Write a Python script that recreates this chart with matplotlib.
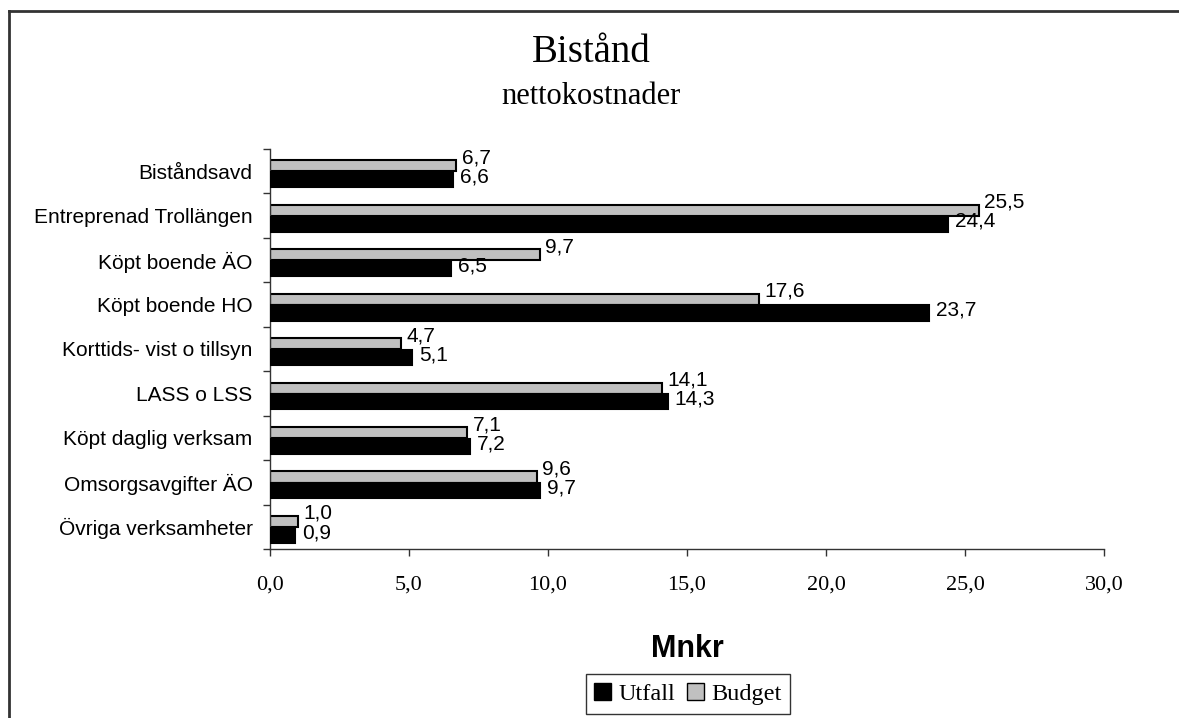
import numpy as np
import matplotlib
matplotlib.use('Agg')
import matplotlib.pyplot as plt
from matplotlib.patches import Patch
from matplotlib.lines import Line2D

categories = ['Biståndsavd', 'Entreprenad Trollängen', 'Köpt boende ÄO',
              'Köpt boende HO', 'Korttids- vist o tillsyn', 'LASS o LSS',
              'Köpt daglig verksam', 'Omsorgsavgifter ÄO', 'Övriga verksamheter']
utfall = [6.6, 24.4, 6.5, 23.7, 5.1, 14.3, 7.2, 9.7, 0.9]
budget = [6.7, 25.5, 9.7, 17.6, 4.7, 14.1, 7.1, 9.6, 1.0]
xticks = [0, 5, 10, 15, 20, 25, 30]

serif = 'Liberation Serif'
sans = 'Liberation Sans'

W, H = 1179, 718
fig = plt.figure(figsize=(W / 100.0, H / 100.0), dpi=100)
ax = fig.add_axes([270.0 / W, 1 - 549.0 / H, 834.0 / W, 400.0 / H])

def fmt(v):
    return ('%.1f' % v).replace('.', ',')

y = np.arange(len(categories))
ax.barh(y - 0.12, budget, height=0.25, color='#c0c0c0', edgecolor='black', linewidth=1.5, zorder=2)
ax.barh(y + 0.19, utfall, height=0.34, color='black', edgecolor='black', linewidth=1.5, zorder=3)

for i in range(len(categories)):
    ax.text(budget[i] + 0.2, y[i] - 0.3, fmt(budget[i]),
            family=sans, fontsize=15, va='center', ha='left')
    ax.text(utfall[i] + 0.25, y[i] + 0.13, fmt(utfall[i]),
            family=sans, fontsize=15, va='center', ha='left')

ax.set_xlim(0, 30)
ax.set_ylim(len(categories) - 0.5, -0.5)

ax.set_xticks(xticks)
ax.set_xticklabels([fmt(v) for v in xticks], family=serif, fontsize=16)
ax.tick_params(axis='x', direction='out', length=5, width=1, pad=14, color='#333333')

ax.set_yticks(y)
ax.set_yticklabels(categories, family=sans, fontsize=15)
ax.set_yticks(np.arange(len(categories) + 1) - 0.5, minor=True)
ax.tick_params(axis='y', which='major', length=0, pad=12.5)
ax.tick_params(axis='y', which='minor', direction='out', length=5, width=1, color='#333333')

for s in ['top', 'right']:
    ax.spines[s].set_visible(False)
for s in ['left', 'bottom']:
    ax.spines[s].set_color('#333333')
    ax.spines[s].set_linewidth(1)

fig.text(591.0 / W, 1 - 52.0 / H, 'Bistånd', family=serif, fontsize=28, ha='center', va='center')
fig.text(591.0 / W, 1 - 97.0 / H, 'nettokostnader', family=serif, fontsize=22, ha='center', va='center')
fig.text(687.0 / W, 1 - 649.0 / H, 'Mnkr', family=sans, fontsize=22, weight='bold', ha='center', va='center')

handles = [Patch(facecolor='black', edgecolor='black', label='Utfall'),
           Patch(facecolor='#c0c0c0', edgecolor='black', label='Budget')]
lg = fig.legend(handles=handles, loc='center', bbox_to_anchor=(688.0 / W, 1 - 694.0 / H),
                ncol=2, prop={'family': serif, 'size': 17.5}, frameon=True, fancybox=False,
                handlelength=0.7, handleheight=0.7, handletextpad=0.3, columnspacing=0.5,
                borderpad=0.35, borderaxespad=0)
lg.get_frame().set_edgecolor('black')
lg.get_frame().set_linewidth(1)

# outer frame, only top and left edges visible in the picture
fig.add_artist(Line2D([9.5 / W, 9.5 / W], [0, 1 - 11.0 / H], color='#333333', lw=2))
fig.add_artist(Line2D([9.5 / W, 1], [1 - 11.0 / H, 1 - 11.0 / H], color='#333333', lw=2))

plt.savefig('out.png', dpi=100)
